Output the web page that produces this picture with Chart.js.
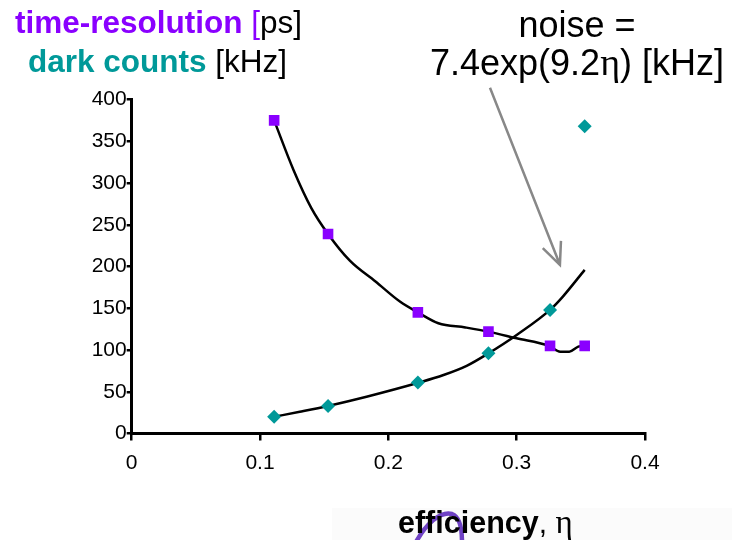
<!DOCTYPE html>
<html>
<head>
<meta charset="utf-8">
<script src="https://cdn.jsdelivr.net/npm/chart.js@4"></script>
<style>
  html, body { margin: 0; padding: 0; background: #ffffff; }
  #wrap { width: 732px; height: 540px; position: relative; }
</style>
</head>
<body>
<div id="wrap"><canvas id="c" width="732" height="540"></canvas></div>
<script>
// Measured detector points: efficiency vs. time-resolution and dark counts
const efficiency   = [0.111, 0.153, 0.223, 0.278, 0.326, 0.353];
const timeRes      = [375, 239, 145, 122, 105, 105];   // ps
const darkCounts   = [20, 33, 61, 96, 148, 368];       // kHz

// Guide curve through the time-resolution points
const timeCurveX = [0.111, 0.126, 0.140, 0.153, 0.170, 0.190, 0.209, 0.223, 0.239, 0.260, 0.278, 0.300, 0.325, 0.334, 0.341, 0.348, 0.353];
const timeCurveY = [375, 316, 270, 239, 207, 182, 158, 145, 132, 127, 122, 114, 105, 98, 98, 104, 105];

// Noise curve, noise = 7.4exp(9.2η) kHz
const noiseCurveX = [0.111, 0.131, 0.153, 0.183, 0.224, 0.243, 0.261, 0.278, 0.300, 0.326, 0.336, 0.353];
const noiseCurveY = [20, 26, 33, 44, 61, 70, 81, 96, 118, 148, 164, 196];

const xTicks = [0, 0.1, 0.2, 0.3, 0.4];
const yTicks = [0, 50, 100, 150, 200, 250, 300, 350, 400];

const PURPLE = '#8a00ff';
const TEAL = '#009999';
const SANS = '"Liberation Sans", Arial, sans-serif';
const SERIF = '"Liberation Serif", "Times New Roman", serif';

const toXY = (xs, ys) => xs.map((x, i) => ({ x: x, y: ys[i] }));

// Draw a sequence of differently styled text runs on one baseline
function drawRuns(ctx, runs, x, y, align) {
  let total = 0;
  runs.forEach(r => { ctx.font = r.font; r.w = ctx.measureText(r.text).width; total += r.w; });
  let cx = align === 'center' ? x - total / 2 : x;
  ctx.textBaseline = 'alphabetic';
  ctx.textAlign = 'left';
  runs.forEach(r => { ctx.font = r.font; ctx.fillStyle = r.color; ctx.fillText(r.text, cx, y); cx += r.w; });
}

const annotations = {
  id: 'annotations',
  beforeDraw(chart) {
    const ctx = chart.ctx;
    ctx.save();
    // faint panel behind the axis title
    ctx.fillStyle = '#fbfbfb';
    ctx.fillRect(332, 508, 400, 32);
    // purple stroke fragment behind the title
    ctx.strokeStyle = 'rgba(95,45,190,0.9)';
    ctx.lineWidth = 4.5;
    ctx.lineCap = 'round';
    ctx.beginPath();
    ctx.moveTo(416, 542);
    ctx.bezierCurveTo(426, 524, 440, 511, 452, 514);
    ctx.bezierCurveTo(460, 517, 462, 528, 462, 542);
    ctx.stroke();
    ctx.restore();
  },
  afterDraw(chart) {
    const ctx = chart.ctx;
    const xs = chart.scales.x, ys = chart.scales.y;
    ctx.save();
    // series header
    drawRuns(ctx, [
      { text: 'time-resolution ', font: 'bold 31.5px ' + SANS, color: PURPLE },
      { text: '[', font: '31.5px ' + SANS, color: PURPLE },
      { text: 'ps]', font: '31.5px ' + SANS, color: '#000' }
    ], 15, 33, 'left');
    drawRuns(ctx, [
      { text: 'dark counts', font: 'bold 31.5px ' + SANS, color: TEAL },
      { text: ' [kHz]', font: '31.5px ' + SANS, color: '#000' }
    ], 28, 72, 'left');

    // noise formula label
    drawRuns(ctx, [
      { text: 'noise =', font: '36px ' + SANS, color: '#000' }
    ], 577, 37, 'center');
    drawRuns(ctx, [
      { text: '7.4exp(9.2', font: '36px ' + SANS, color: '#000' },
      { text: 'η', font: '38px ' + SERIF, color: '#000' },
      { text: ') [kHz]', font: '36px ' + SANS, color: '#000' }
    ], 577, 75, 'center');

    // arrow from the formula down to the noise curve
    const x0 = xs.getPixelForValue(0.2792), y0 = ys.getPixelForValue(414);
    const x1 = xs.getPixelForValue(0.3337), y1 = ys.getPixelForValue(202);
    ctx.strokeStyle = '#888888';
    ctx.lineWidth = 2.5;
    ctx.lineCap = 'butt';
    ctx.beginPath();
    ctx.moveTo(x0, y0);
    ctx.lineTo(x1, y1);
    const ang = Math.atan2(y1 - y0, x1 - x0);
    const L = 24, spread = 0.42;
    ctx.moveTo(x1 - L * Math.cos(ang - spread), y1 - L * Math.sin(ang - spread));
    ctx.lineTo(x1, y1);
    ctx.lineTo(x1 - L * Math.cos(ang + spread), y1 - L * Math.sin(ang + spread));
    ctx.stroke();

    // x axis title
    drawRuns(ctx, [
      { text: 'efficiency', font: 'bold 30.5px ' + SANS, color: '#000' },
      { text: ', ', font: '30px ' + SANS, color: '#000' },
      { text: 'η', font: '33px ' + SERIF, color: '#000' }
    ], 398, 533, 'left');
    ctx.restore();
  }
};

new Chart(document.getElementById('c'), {
  type: 'scatter',
  data: {
    datasets: [
      {
        label: 'time-resolution [ps]',
        data: toXY(efficiency, timeRes),
        pointStyle: 'rect',
        pointRadius: 7.5,
        backgroundColor: PURPLE,
        borderColor: PURPLE,
        borderWidth: 0,
        showLine: false,
        order: 0
      },
      {
        label: 'dark counts [kHz]',
        data: toXY(efficiency, darkCounts),
        pointStyle: 'rectRot',
        pointRadius: 7,
        backgroundColor: TEAL,
        borderColor: TEAL,
        borderWidth: 0,
        showLine: false,
        order: 0
      },
      {
        label: 'time-resolution curve',
        data: toXY(timeCurveX, timeCurveY),
        showLine: true,
        borderColor: '#000',
        borderWidth: 2.5,
        pointRadius: 0,
        cubicInterpolationMode: 'monotone',
        order: 1
      },
      {
        label: 'noise curve',
        data: toXY(noiseCurveX, noiseCurveY),
        showLine: true,
        borderColor: '#000',
        borderWidth: 2.5,
        pointRadius: 0,
        cubicInterpolationMode: 'monotone',
        order: 1
      }
    ]
  },
  options: {
    responsive: false,
    animation: false,
    layout: { padding: { left: 0, right: 87, top: 99.5, bottom: 0 } },
    plugins: { legend: { display: false }, tooltip: { enabled: false } },
    scales: {
      x: {
        type: 'linear',
        min: 0, max: 0.4,
        afterBuildTicks: s => { s.ticks = xTicks.map(v => ({ value: v })); },
        afterFit: s => { s.height = 106.5; },
        border: { color: '#000', width: 3 },
        grid: { drawOnChartArea: false, color: '#000', lineWidth: 2.5, tickLength: 7 },
        ticks: { color: '#000', font: { family: SANS, size: 21 }, padding: 10, maxRotation: 0,
                 callback: v => String(v) }
      },
      y: {
        type: 'linear',
        min: 0, max: 400,
        afterBuildTicks: s => { s.ticks = yTicks.map(v => ({ value: v })); },
        afterFit: s => { s.width = 131.7; },
        border: { color: '#000', width: 3 },
        grid: { drawOnChartArea: false, color: '#000', lineWidth: 2.5, tickLength: 5 },
        ticks: { color: '#000', font: { family: SANS, size: 21 }, padding: 0,
                 callback: v => String(v) }
      }
    }
  },
  plugins: [annotations]
});
</script>
</body>
</html>
